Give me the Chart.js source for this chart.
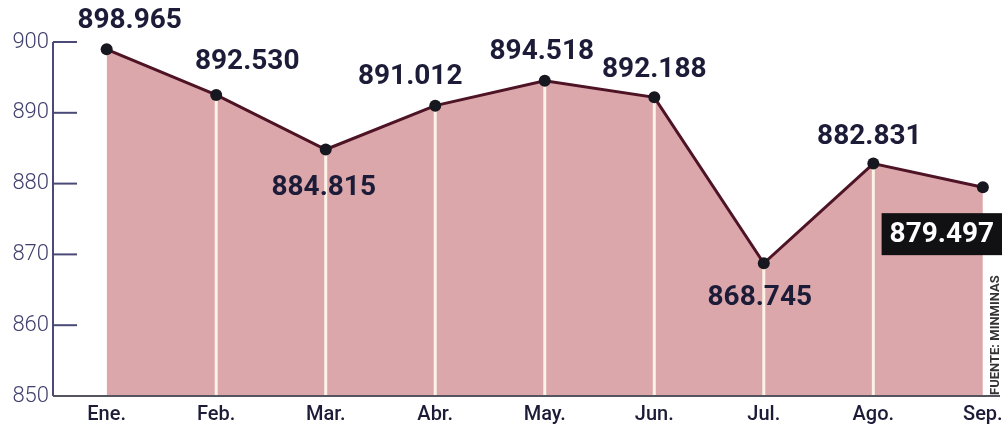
<!DOCTYPE html>
<html><head><meta charset="utf-8">
<script src="https://cdn.jsdelivr.net/npm/chart.js@4.4.1/dist/chart.umd.min.js"></script>
<style>html,body{margin:0;padding:0;background:#fff;}#wrap{width:1002px;height:427px;}</style>
</head><body><div id="wrap"><canvas id="c" width="1002" height="427"></canvas></div>
<script>
const categories = ["Ene.","Feb.","Mar.","Abr.","May.","Jun.","Jul.","Ago.","Sep."];
const values = [898.965, 892.530, 884.815, 891.012, 894.518, 892.188, 868.745, 882.831, 879.497];
const yTicks = [850, 860, 870, 880, 890, 900];
const source = "FUENTE: MINMINAS";

// label placement offsets (px) relative to each point
const labelOffsets = [[23,-29],[31,-34],[-2,37],[-25,-30],[-3,-30],[0,-28],[-4,34],[-4,-28],[-41,47]];

const ink = '#1c1c38';
const axisCol = '#4a4a78';

const decor = {
  id: 'decor',
  beforeDatasetsDraw(chart) {
    const ctx = chart.ctx, y = chart.scales.y;
    const meta = chart.getDatasetMeta(0);
    ctx.save();
    ctx.strokeStyle = '#fbf3e6';
    ctx.lineWidth = 3;
    meta.data.forEach((p, i) => {
      if (i === 0 || i === meta.data.length - 1) return;
      ctx.beginPath();
      ctx.moveTo(p.x, p.y);
      ctx.lineTo(p.x, y.bottom);
      ctx.stroke();
    });
    ctx.restore();
  },
  afterDraw(chart) {
    const ctx = chart.ctx, y = chart.scales.y;
    const area = chart.chartArea;
    ctx.save();
    ctx.strokeStyle = axisCol;
    ctx.lineWidth = 2;
    ctx.beginPath();
    ctx.moveTo(area.left, y.getPixelForValue(yTicks[yTicks.length-1]));
    ctx.lineTo(area.left, area.bottom);
    ctx.stroke();
    ctx.strokeStyle = '#55555f';
    ctx.beginPath();
    ctx.moveTo(area.left, area.bottom);
    ctx.lineTo(chart.width - 2, area.bottom);
    ctx.stroke();
    ctx.strokeStyle = axisCol;
    yTicks.forEach(v => {
      if (v === yTicks[0]) return;
      const py = y.getPixelForValue(v);
      ctx.beginPath();
      ctx.moveTo(area.left, py);
      ctx.lineTo(area.left + 24, py);
      ctx.stroke();
    });
    const meta = chart.getDatasetMeta(0);
    ctx.font = 'bold 28px Roboto';
    ctx.textAlign = 'center';
    ctx.textBaseline = 'middle';
    meta.data.forEach((p, i) => {
      const txt = values[i].toFixed(3);
      const [dx, dy] = labelOffsets[i];
      const cx = p.x + dx, cy = p.y + dy;
      if (i === values.length - 1) {
        const w = ctx.measureText(txt).width + 16;
        ctx.fillStyle = '#111114';
        ctx.fillRect(cx - w/2, cy - 21, w, 42);
        ctx.fillStyle = '#ffffff';
      } else {
        ctx.fillStyle = ink;
      }
      ctx.fillText(txt, cx, cy + 1);
    });
    ctx.translate(996, area.bottom - 1);
    ctx.rotate(-Math.PI/2);
    ctx.font = 'bold 13px Roboto';
    ctx.fillStyle = '#333';
    ctx.textAlign = 'left';
    ctx.textBaseline = 'middle';
    ctx.fillText(source, 0, 0);
    ctx.restore();
  }
};

new Chart(document.getElementById('c'), {
  type: 'line',
  data: {
    datasets: [{
      data: values.map((v, i) => ({x: i, y: v})),
      borderColor: '#4e1426',
      borderWidth: 3,
      backgroundColor: 'rgba(218,162,167,0.95)',
      fill: 'start',
      tension: 0,
      pointRadius: 6,
      pointBackgroundColor: '#17171f',
      pointBorderColor: '#17171f',
      pointBorderWidth: 0
    }]
  },
  options: {
    responsive: false,
    animation: false,
    events: [],
    layout: { padding: { top: 42, right: 0, left: 0, bottom: 0 } },
    plugins: {
      legend: { display: false },
      tooltip: { enabled: false },
      filler: { drawTime: 'beforeDatasetsDraw' }
    },
    scales: {
      x: {
        type: 'linear',
        min: -0.49,
        max: 8.12,
        afterBuildTicks(s) { s.ticks = categories.map((_, i) => ({ value: i })); },
        afterFit(s) { s.paddingLeft = 0; s.paddingRight = 0; s.height = 31; },
        grid: { display: false, drawTicks: false },
        border: { display: false },
        ticks: {
          callback: (v) => categories[v],
          color: ink,
          font: { family: 'Roboto', size: 20, weight: '500' },
          padding: 7,
          maxRotation: 0,
          autoSkip: false
        }
      },
      y: {
        min: yTicks[0],
        max: yTicks[yTicks.length - 1],
        afterBuildTicks(s) { s.ticks = yTicks.map(v => ({ value: v })); },
        afterFit(s) { s.width = 53; },
        grid: { display: false, drawTicks: false },
        border: { display: false },
        ticks: {
          color: '#40406e',
          font: { family: 'Roboto', size: 22, weight: '300' },
          padding: 4
        }
      }
    }
  },
  plugins: [decor]
});
</script>
</body></html>
